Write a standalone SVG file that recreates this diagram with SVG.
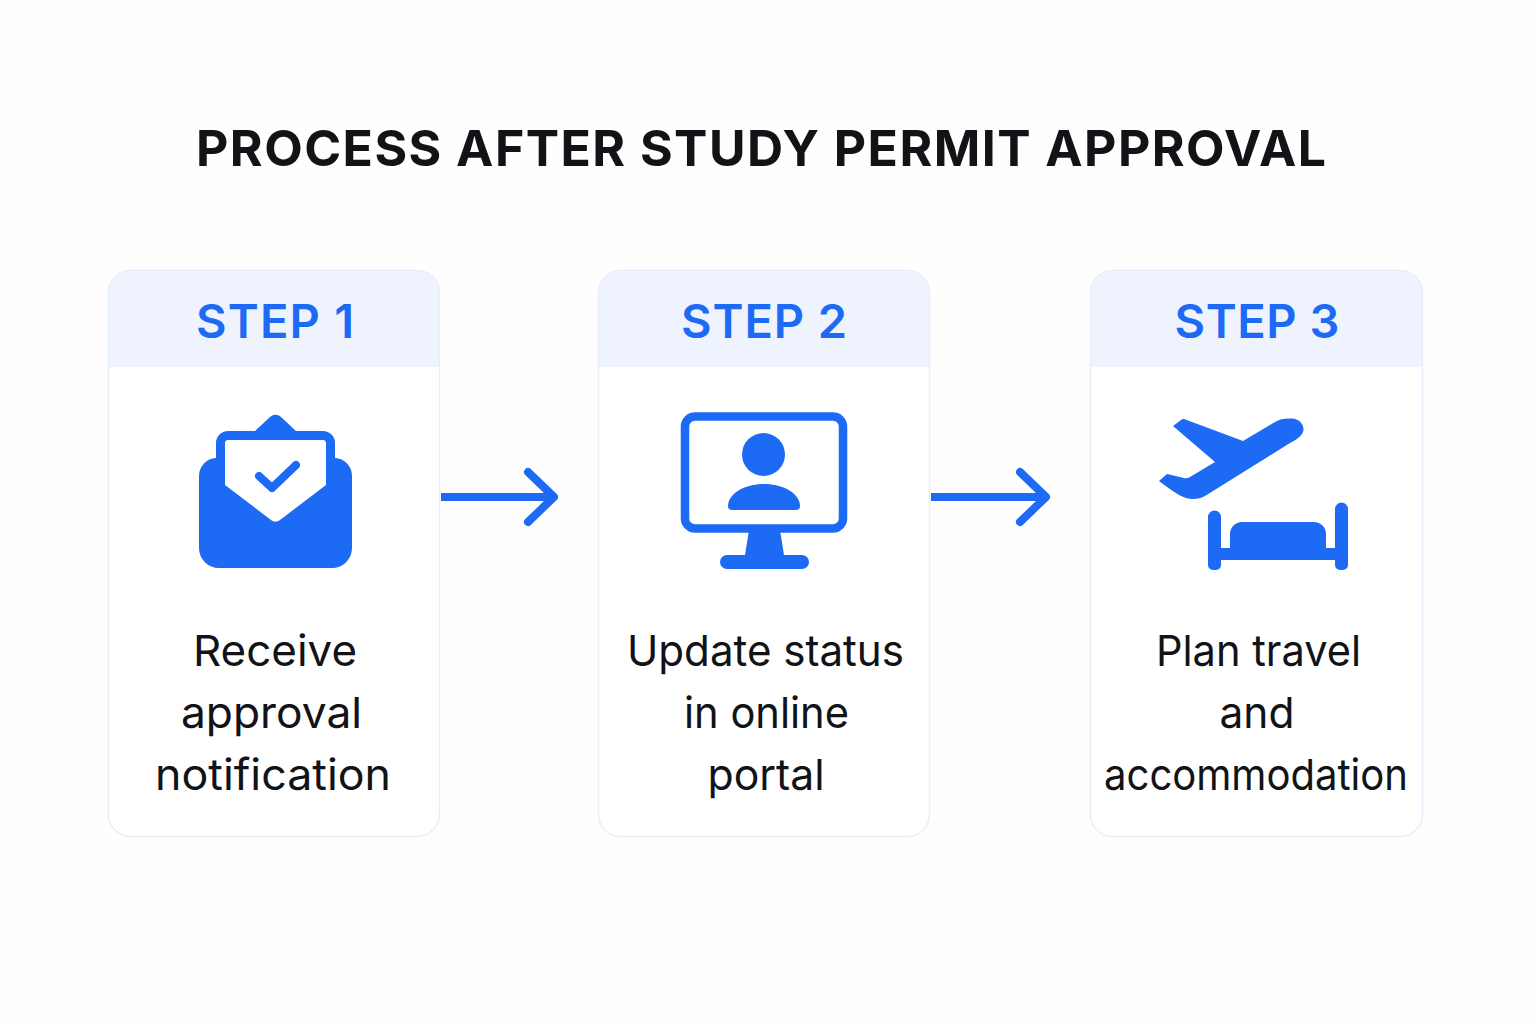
<svg xmlns="http://www.w3.org/2000/svg" width="1536" height="1024" viewBox="0 0 1536 1024">
<style>
.card{fill:#fff;stroke:#e6eef9;stroke-width:1.5}
.head{fill:#eef3fd}
.title{font:700 50px Inter,"Liberation Sans",sans-serif;fill:#111316;text-anchor:middle}
.step{font:600 47px Inter,"Liberation Sans",sans-serif;fill:#1d6af4;text-anchor:middle}
.body{font:400 43px Inter,"Liberation Sans",sans-serif;fill:#111316;text-anchor:middle}
.ic{fill:#1d6af4}
.ln{fill:none;stroke:#1d6af4;stroke-width:8;stroke-linecap:round;stroke-linejoin:round}
</style>
<rect width="1536" height="1024" fill="#fefefe"/>
<text id="title" class="title" x="761" y="166" textLength="1130">PROCESS AFTER STUDY PERMIT APPROVAL</text>
<g id="connectors">
<path d="M441 497H553" class="ln" style="stroke-linecap:butt"/><path d="M528 472L554 497L528 522" class="ln"/>
<path d="M931 497H1045" class="ln" style="stroke-linecap:butt"/><path d="M1020 472L1046 497L1020 522" class="ln"/>
</g>
<g id="step1">
<rect class="card" x="108.500" y="270.500" width="331" height="566" rx="22"/>
<path class="head" d="M109 367V293a22 22 0 0 1 22-22H417a22 22 0 0 1 22 22V367Z"/>
<text class="step" x="275" y="338" textLength="158">STEP 1</text>
<path class="ic" d="M216 458V443a12 12 0 0 1 12-12H255L270 417a8 8 0 0 1 11 0L296 431H323a12 12 0 0 1 12 12V458a18 18 0 0 1 17 18V548a20 20 0 0 1-20 20H219a20 20 0 0 1-20-20V476a18 18 0 0 1 17-18Z"/>
<path d="M225 443a3 3 0 0 1 3-3H323a3 3 0 0 1 3 3V485L280 520a7 7 0 0 1-9 0L225 485Z" fill="#fff"/>
<path d="M259 476L272 488L296 465" fill="none" stroke="#1d6af4" stroke-width="8" stroke-linecap="round" stroke-linejoin="round"/>
<text class="body" x="275" y="666" textLength="164" lengthAdjust="spacingAndGlyphs">Receive</text>
<text class="body" x="271.500" y="728" textLength="181" lengthAdjust="spacingAndGlyphs">approval</text>
<text class="body" x="273" y="790" textLength="236" lengthAdjust="spacingAndGlyphs">notification</text>
</g>
<g id="step2">
<rect class="card" x="598.500" y="270.500" width="331" height="566" rx="22"/>
<path class="head" d="M599 367V293a22 22 0 0 1 22-22H907a22 22 0 0 1 22 22V367Z"/>
<text class="step" x="764" y="338" textLength="166">STEP 2</text>
<rect x="685" y="416.500" width="158" height="112" rx="10" fill="none" stroke="#1d6af4" stroke-width="8.500"/>
<circle class="ic" cx="763.500" cy="454.500" r="21.500"/>
<path class="ic" d="M728 506C728 494 744 484 764 484S800 494 800 506a4 4 0 0 1-4 4H732a4 4 0 0 1-4-4Z"/>
<path class="ic" d="M749 530H780L784 555H802a7 7 0 0 1 0 14H727a7 7 0 0 1 0-14H745Z"/>
<text class="body" x="765.500" y="666" textLength="277" lengthAdjust="spacingAndGlyphs">Update status</text>
<text class="body" x="766.500" y="728" textLength="165" lengthAdjust="spacingAndGlyphs">in online</text>
<text class="body" x="766" y="790" textLength="117" lengthAdjust="spacingAndGlyphs">portal</text>
</g>
<g id="step3">
<rect class="card" x="1090.500" y="270.500" width="332" height="566" rx="22"/>
<path class="head" d="M1091 367V293a22 22 0 0 1 22-22H1400a22 22 0 0 1 22 22V367Z"/>
<text class="step" x="1257" y="338" textLength="165">STEP 3</text>
<path class="ic" d="M1173 426L1181 420a3 3 0 0 1 3-1L1243 441L1275 422C1280 419 1285 418 1292 418.500C1302 419 1306 429 1302 434C1300 437 1296 440 1290 443L1205 496C1200 499 1192 500 1186 498C1180 496 1172 491 1159 481L1167 474L1184 478a8 8 0 0 0 6-1L1215 462Z"/>
<path class="ic" d="M1208 517a6.500 6.500 0 0 1 13 0V548H1230V534a12 12 0 0 1 12-12H1314a12 12 0 0 1 12 12V548H1335V509a6.500 6.500 0 0 1 13 0V565a5 5 0 0 1-5 5H1340a5 5 0 0 1-5-5V560H1221V565a5 5 0 0 1-5 5H1213a5 5 0 0 1-5-5Z"/>
<text class="body" x="1258.500" y="666" textLength="205" lengthAdjust="spacingAndGlyphs">Plan travel</text>
<text class="body" x="1257" y="728" textLength="75" lengthAdjust="spacingAndGlyphs">and</text>
<text class="body" x="1256" y="790" textLength="304" lengthAdjust="spacingAndGlyphs">accommodation</text>
</g>
</svg>
